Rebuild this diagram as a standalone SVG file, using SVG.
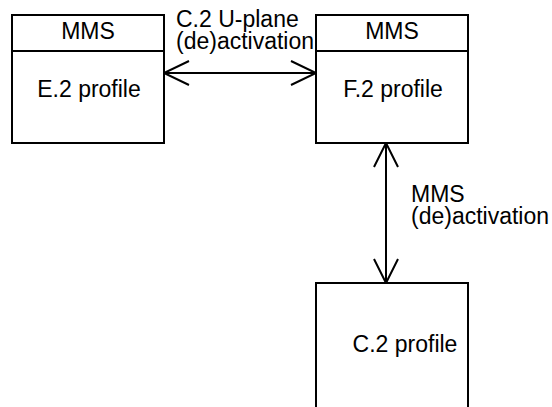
<svg xmlns="http://www.w3.org/2000/svg" width="552" height="407" viewBox="0 0 552 407">
  <style>
    .box { fill: #fff; stroke: #000; stroke-width: 2; }
    .ln { fill: none; stroke: #000; stroke-width: 2; }
    text { font-family: "Liberation Sans", Arial, sans-serif; font-size: 23px; fill: #000; }
    .c { text-anchor: middle; }
  </style>
  <rect width="552" height="407" fill="#fff"/>
  <g id="connectors">
    <g id="c2-uplane">
      <line class="ln" x1="164" y1="73" x2="316" y2="73"/>
      <polyline class="ln" points="189,61 164,73 189,85"/>
      <polyline class="ln" points="291,61 316,73 291,85"/>
      <text x="176" y="27">C.2 U-plane</text>
      <text x="176" y="48.5">(de)activation</text>
    </g>
    <g id="mms-act">
      <line class="ln" x1="386" y1="143" x2="386" y2="283"/>
      <polyline class="ln" points="374,167 386,143 398,167"/>
      <polyline class="ln" points="374,259 386,283 398,259"/>
      <text x="411" y="202">MMS</text>
      <text x="411" y="223.5">(de)activation</text>
    </g>
  </g>
  <g id="node-e2">
    <rect class="box" x="12" y="15" width="152" height="128"/>
    <line class="ln" x1="12" y1="51" x2="164" y2="51"/>
    <text class="c" x="88" y="39">MMS</text>
    <text class="c" x="89" y="97">E.2 profile</text>
  </g>
  <g id="node-f2">
    <rect class="box" x="316" y="15" width="152" height="128"/>
    <line class="ln" x1="316" y1="51" x2="468" y2="51"/>
    <text class="c" x="392" y="39">MMS</text>
    <text class="c" x="393" y="97">F.2 profile</text>
  </g>
  <g id="node-c2">
    <rect class="box" x="316" y="283" width="152" height="140"/>
    <text class="c" x="405" y="352">C.2 profile</text>
  </g>
</svg>
